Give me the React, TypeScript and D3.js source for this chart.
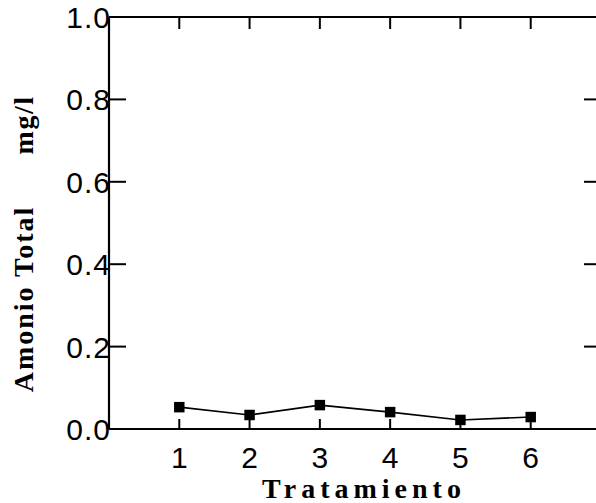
import React from 'react';
import * as d3 from 'd3';

const treatments = [1, 2, 3, 4, 5, 6];
const ammonia = [0.053, 0.034, 0.058, 0.041, 0.022, 0.029];
const yTicks = [0, 0.2, 0.4, 0.6, 0.8, 1.0];

const width = 596;
const height = 503;

export default function App() {
  const x = d3.scaleLinear().domain([0, 7]).range([109, 601]);
  const y = d3.scaleLinear().domain([0, 1]).range([429, 17]);

  const points = treatments.map((t, i) => ({ t, v: ammonia[i] }));
  const line = d3.line<{ t: number; v: number }>()
    .x(d => x(d.t))
    .y(d => y(d.v));
  const marker = d3.symbol().type(d3.symbolSquare).size(110)();

  const tickLen = 17;
  const sans = '"Liberation Sans", Arial, sans-serif';
  const serif = '"Liberation Serif", "Times New Roman", serif';

  return (
    <svg width={width} height={height}
      style={{ position: 'absolute', left: 0, top: 0, background: '#fff' }}>
      {/* frame */}
      <g stroke="#000" strokeWidth={2.2} fill="none">
        <line x1={x(0)} x2={x(7)} y1={y(0)} y2={y(0)} />
        <line x1={x(0)} x2={x(7)} y1={y(1)} y2={y(1)} />
        <line x1={x(0)} x2={x(0)} y1={y(0)} y2={y(1)} />
        <line x1={x(7)} x2={x(7)} y1={y(0)} y2={y(1)} />
      </g>

      {/* y ticks, inward on both sides */}
      <g stroke="#000" strokeWidth={2}>
        {yTicks.slice(1, 5).map(t => (
          <g key={t}>
            <line x1={x(0)} x2={x(0) + tickLen} y1={y(t)} y2={y(t)} />
            <line x1={x(7)} x2={x(7) - tickLen} y1={y(t)} y2={y(t)} />
          </g>
        ))}
      </g>
      <g fontFamily={sans} fontSize={30} textAnchor="end" letterSpacing={1}>
        {yTicks.map(t => (
          <text key={t} x={x(0) + 2} y={y(t) + 11}>{t.toFixed(1)}</text>
        ))}
      </g>

      {/* x ticks, inward top and bottom */}
      <g stroke="#000" strokeWidth={2}>
        {treatments.map(t => (
          <g key={t}>
            <line x1={x(t)} x2={x(t)} y1={y(0)} y2={y(0) - 10} />
            <line x1={x(t)} x2={x(t)} y1={y(1)} y2={y(1) + 12} />
          </g>
        ))}
      </g>
      <g fontFamily={sans} fontSize={30} textAnchor="middle">
        {treatments.map(t => (
          <text key={t} x={x(t)} y={468}>{t}</text>
        ))}
      </g>

      {/* series */}
      <path d={line(points) ?? ''} fill="none" stroke="#000" strokeWidth={1.6} />
      {points.map(d => (
        <path key={d.t} d={marker ?? ''} transform={`translate(${x(d.t)},${y(d.v)})`} fill="#000" />
      ))}

      {/* axis titles */}
      <text x={364} y={498} textAnchor="middle" fontFamily={serif} fontWeight="bold"
        fontSize={28} letterSpacing={5}>Tratamiento</text>
      <g transform="translate(33,0) rotate(-90)" fontFamily={serif} fontWeight="bold" fontSize={28}>
        <text x={-299} y={0} textAnchor="middle" letterSpacing={2}>Amonio Total</text>
        <text x={-125} y={0} textAnchor="middle" letterSpacing={1.5}>mg/l</text>
      </g>
    </svg>
  );
}
